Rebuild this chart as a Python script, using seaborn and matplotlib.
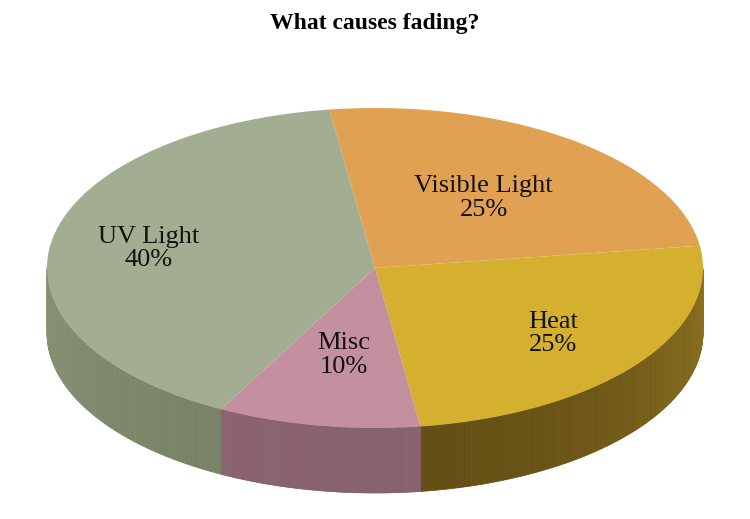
import numpy as np
import matplotlib.pyplot as plt
import seaborn as sns
from matplotlib.patches import Polygon
from matplotlib.colors import to_rgb

sns.set_theme(style="white")
plt.rcParams['font.family'] = ['Liberation Serif', 'DejaVu Serif']

labels = ["Visible Light", "Heat", "Misc", "UV Light"]
values = [25, 25, 10, 40]
top_colors = ["#e0a153", "#d5b02f", "#c4909f", "#a3ad91"]
side_colors = ["#9a6a30", "#6f5816", "#8e6574", "#7b8669"]
label_radius = [0.55, 0.68, 0.55, 0.70]

cx, cy, rx, ry, depth = 375, 268, 328, 160, 65
start = 98.0


def pt(t, dy=0):
    r = np.radians(t)
    return cx + rx * np.cos(r), cy - ry * np.sin(r) + dy


fig = plt.figure(figsize=(7.5, 5.19), dpi=100)
ax = fig.add_axes([0, 0, 1, 1])
ax.set_xlim(0, 750)
ax.set_ylim(519, 0)
ax.axis("off")

# slice angle ranges, clockwise
bounds = []
a = start
for v in values:
    b = a - v / 100 * 360
    bounds.append((a, b))
    a = b

# side walls (only front half visible), in strips for shading
for (a, b), top, side in zip(bounds, top_colors, side_colors):
    ts = np.linspace(a, b, 200)
    for t0, t1 in zip(ts[:-1], ts[1:]):
        tm = (t0 + t1) / 2 % 360
        if not (180 <= tm <= 360):
            continue
        shade = 0.75 + 0.35 * abs(np.cos(np.radians(tm - 270)))
        base = np.array(to_rgb(side))
        hi = np.array(to_rgb(top))
        c = np.clip(base + (hi - base) * (1 - shade) * 1.2, 0, 1)
        p = [pt(t0), pt(t1), pt(t1, depth), pt(t0, depth)]
        ax.add_patch(Polygon(p, closed=True, fc=c, ec=c, lw=0.5))

# top face
for (a, b), col in zip(bounds, top_colors):
    ts = np.linspace(a, b, 200)
    p = [(cx, cy)] + [pt(t) for t in ts]
    ax.add_patch(Polygon(p, closed=True, fc=col, ec="none"))

# labels
for (a, b), lab, v, f in zip(bounds, labels, values, label_radius):
    m = np.radians((a + b) / 2)
    x = cx + rx * f * np.cos(m)
    y = cy - ry * f * np.sin(m)
    ax.text(x, y, f"{lab}\n{v}%", ha="center", va="center", fontsize=19,
            color="#111111", linespacing=1.1)

ax.text(375, 24, "What causes fading?", ha="center", va="center",
        fontsize=17, fontweight="bold", color="black")

fig.savefig("out.png", dpi=100)
